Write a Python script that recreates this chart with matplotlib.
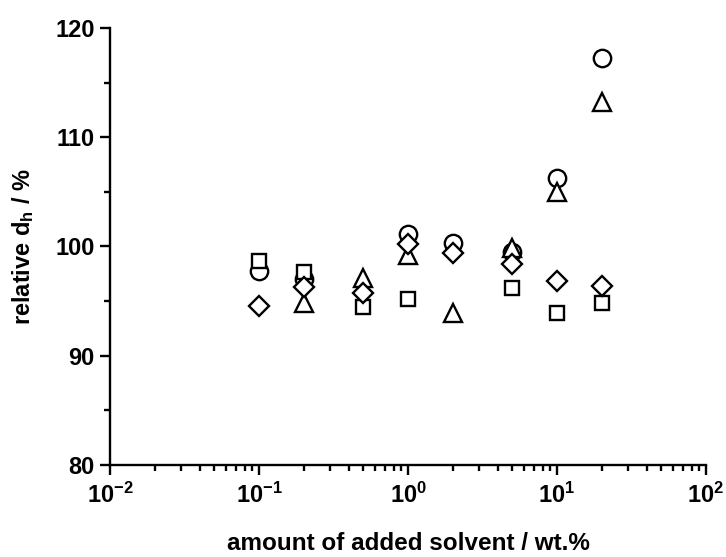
import matplotlib
matplotlib.use("Agg")
import matplotlib.pyplot as plt
from matplotlib.ticker import LogLocator, MultipleLocator, FixedLocator

plt.rcParams['font.family'] = ['Liberation Sans', 'DejaVu Sans']
plt.rcParams['font.weight'] = 'bold'
plt.rcParams['mathtext.fontset'] = 'custom'
plt.rcParams['mathtext.rm'] = 'Liberation Sans:bold'
plt.rcParams['mathtext.bf'] = 'Liberation Sans:bold'
plt.rcParams['mathtext.it'] = 'Liberation Sans:bold'
plt.rcParams['mathtext.default'] = 'bf'

# data
x_circle = [0.1, 0.2, 1, 2, 5, 10, 20]
y_circle = [97.8, 97.0, 101.1, 100.3, 99.5, 106.3, 117.2]

x_square = [0.1, 0.2, 0.5, 1, 5, 10, 20]
y_square = [98.7, 97.7, 94.5, 95.2, 96.2, 93.9, 94.8]

x_triangle = [0.2, 0.5, 1, 2, 5, 10, 20]
y_triangle = [94.8, 97.1, 99.2, 93.9, 99.9, 105.0, 113.2]

x_diamond = [0.1, 0.2, 0.5, 1, 2, 5, 10, 20]
y_diamond = [94.6, 96.3, 95.7, 100.2, 99.4, 98.4, 96.8, 96.4]

fig = plt.figure(figsize=(7.26, 5.57), dpi=100)
ax = fig.add_axes([0.1515, 0.165, 0.821, 0.785])

style = dict(linestyle='none', markerfacecolor='white', markeredgecolor='black',
             markeredgewidth=1.7, clip_on=False)
ax.plot(x_circle, y_circle, marker='o', markersize=12.5, zorder=3, **style)
ax.plot(x_square, y_square, marker='s', markersize=10.5, zorder=4, **style)
ax.plot(x_triangle, y_triangle, marker='^', markersize=13.5, zorder=5, **style)
ax.plot(x_diamond, y_diamond, marker='D', markersize=10, zorder=6, **style)

ax.set_xscale('log')
ax.set_xlim(1e-2, 1e2)
ax.set_ylim(80, 120)

ax.xaxis.set_major_locator(FixedLocator([1e-2, 1e-1, 1, 10, 100]))
ax.set_xticklabels([r'$10^{-2}$', r'$10^{-1}$', r'$10^{0}$', r'$10^{1}$', r'$10^{2}$'])
ax.xaxis.set_minor_locator(LogLocator(base=10, subs=range(2, 10), numticks=20))
ax.yaxis.set_major_locator(MultipleLocator(10))
ax.yaxis.set_minor_locator(MultipleLocator(5))

for s in ['top', 'right']:
    ax.spines[s].set_visible(False)
for s in ['left', 'bottom']:
    ax.spines[s].set_linewidth(1.7)

ax.tick_params(axis='both', which='major', direction='out', length=7, width=1.7,
               labelsize=17, pad=4)
ax.tick_params(axis='both', which='minor', direction='out', length=4, width=1.7)
ax.tick_params(axis='x', which='major', pad=6)

ax.set_xlabel('amount of added solvent / wt.%', fontsize=17.5, fontweight='bold', labelpad=17)
ax.set_ylabel(r'relative d$_h$ / %', fontsize=17, fontweight='bold', labelpad=14)

fig.savefig('out.png', dpi=100)
